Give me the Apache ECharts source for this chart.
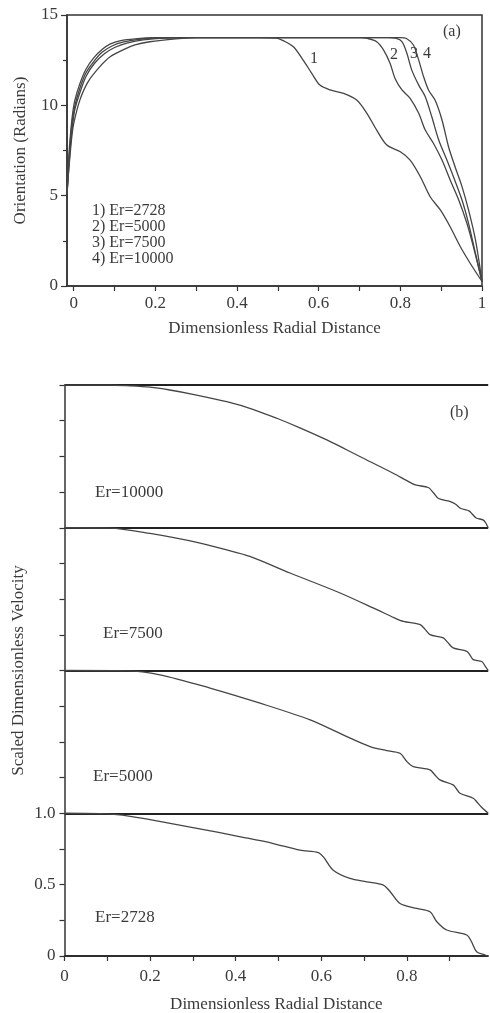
<!DOCTYPE html>
<html>
<head>
<meta charset="utf-8">
<script src="https://cdn.jsdelivr.net/npm/echarts@6/dist/echarts.min.js"></script>
<style>html,body{margin:0;padding:0;background:#fff;}#c{width:490px;height:1013px;}</style>
</head>
<body>
<div id="c"></div>
<script>
// ---------- Panel (a): orientation vs radial distance ----------
const erNames = ['Er=2728', 'Er=5000', 'Er=7500', 'Er=10000'];

const rA1 = [-0.0165, -0.013, -0.01, -0.005, 0, 0.015, 0.035, 0.064, 0.09, 0.12, 0.15, 0.186, 0.25, 0.3, 0.45, 0.497, 0.513, 0.538, 0.562, 0.583, 0.603, 0.628, 0.661, 0.693, 0.718, 0.742, 0.767, 0.8, 0.824, 0.849, 0.873, 0.898, 0.922, 0.947, 0.971, 1.0];
const oA1 = [5.1, 6.2, 7.0, 8.2, 9.0, 10.29, 11.3, 12.14, 12.7, 13.06, 13.35, 13.52, 13.68, 13.75, 13.75, 13.72, 13.58, 13.24, 12.5, 11.77, 11.12, 10.85, 10.66, 10.29, 9.56, 8.63, 7.8, 7.43, 6.97, 6.05, 4.94, 4.21, 3.28, 2.17, 1.26, 0.25];

const rA2 = [-0.0165, -0.012, -0.008, -0.003, 0.003, 0.015, 0.03, 0.05, 0.075, 0.1, 0.13, 0.17, 0.22, 0.3, 0.7, 0.72, 0.742, 0.759, 0.775, 0.787, 0.804, 0.824, 0.845, 0.861, 0.881, 0.902, 0.922, 0.943, 0.963, 0.979, 1.0];
const oA2 = [5.1, 6.6, 7.8, 8.9, 9.8, 10.7, 11.6, 12.3, 12.85, 13.2, 13.45, 13.62, 13.72, 13.75, 13.75, 13.7, 13.52, 13.06, 12.32, 11.49, 10.85, 10.39, 9.56, 8.63, 7.9, 6.97, 5.87, 4.76, 3.47, 2.17, 0.25];

const rA3 = [-0.0165, -0.012, -0.008, -0.003, 0.003, 0.015, 0.03, 0.05, 0.07, 0.095, 0.12, 0.16, 0.21, 0.3, 0.77, 0.79, 0.804, 0.816, 0.828, 0.845, 0.861, 0.877, 0.894, 0.914, 0.93, 0.951, 0.967, 0.984, 1.0];
const oA3 = [5.1, 6.9, 8.1, 9.2, 10.0, 10.95, 11.8, 12.45, 12.95, 13.3, 13.5, 13.65, 13.73, 13.75, 13.75, 13.7, 13.52, 12.88, 11.95, 11.12, 10.48, 9.37, 8.08, 6.97, 6.05, 4.76, 3.47, 1.81, 0.25];

const rA4 = [-0.0165, -0.012, -0.008, -0.003, 0.003, 0.015, 0.03, 0.05, 0.07, 0.09, 0.115, 0.15, 0.2, 0.3, 0.8, 0.815, 0.832, 0.845, 0.857, 0.869, 0.885, 0.902, 0.918, 0.934, 0.951, 0.967, 0.984, 1.0];
const oA4 = [5.1, 7.2, 8.4, 9.5, 10.3, 11.2, 12.0, 12.65, 13.1, 13.4, 13.58, 13.68, 13.74, 13.75, 13.75, 13.7, 13.34, 12.5, 11.58, 10.85, 10.29, 9.19, 7.71, 6.6, 5.5, 4.21, 2.55, 0.25];

const xTicksA = [0, 0.1, 0.2, 0.3, 0.4, 0.5, 0.6, 0.7, 0.8, 0.9, 1];
const xLabelsA = [0, 0.2, 0.4, 0.6, 0.8, 1];
const curveTags = ['1', '2', '3', '4'];
const legendLines = ['1) Er=2728', '2) Er=5000', '3) Er=7500', '4) Er=10000'];

// ---------- Panel (b): scaled velocity, stacked ----------
const rB1 = [0, 0.1, 0.15, 0.2, 0.3, 0.42, 0.488, 0.55, 0.593, 0.605, 0.628, 0.667, 0.706, 0.745, 0.761, 0.784, 0.823, 0.854, 0.87, 0.893, 0.94, 0.951, 0.963, 0.983, 0.99];
const vB1 = [1, 0.995, 0.98, 0.955, 0.9, 0.83, 0.788, 0.741, 0.725, 0.694, 0.601, 0.543, 0.52, 0.497, 0.45, 0.368, 0.333, 0.31, 0.24, 0.182, 0.147, 0.1, 0.03, 0.007, 0];

const rB2 = [0, 0.145, 0.223, 0.34, 0.457, 0.574, 0.651, 0.714, 0.753, 0.784, 0.8, 0.815, 0.854, 0.865, 0.877, 0.908, 0.916, 0.924, 0.955, 0.963, 0.975, 0.99];
const vB2 = [1, 0.998, 0.97, 0.877, 0.771, 0.654, 0.549, 0.467, 0.439, 0.42, 0.362, 0.327, 0.304, 0.27, 0.234, 0.199, 0.17, 0.14, 0.105, 0.081, 0.04, 0];

const rB3 = [0, 0.106, 0.2, 0.317, 0.37, 0.433, 0.527, 0.644, 0.73, 0.77, 0.792, 0.831, 0.842, 0.854, 0.885, 0.896, 0.908, 0.94, 0.948, 0.955, 0.975, 0.982, 0.99];
const vB3 = [1, 0.998, 0.96, 0.893, 0.852, 0.8, 0.683, 0.543, 0.426, 0.37, 0.344, 0.321, 0.29, 0.251, 0.228, 0.195, 0.158, 0.134, 0.105, 0.076, 0.063, 0.035, 0];

const rB4 = [0, 0.1, 0.145, 0.2, 0.246, 0.3, 0.379, 0.44, 0.496, 0.55, 0.613, 0.69, 0.768, 0.8, 0.82, 0.85, 0.862, 0.874, 0.9, 0.914, 0.926, 0.945, 0.953, 0.962, 0.978, 0.984, 0.99];
const vB4 = [1, 1, 0.995, 0.985, 0.965, 0.935, 0.883, 0.83, 0.767, 0.7, 0.615, 0.499, 0.382, 0.33, 0.3, 0.282, 0.245, 0.205, 0.185, 0.165, 0.135, 0.118, 0.095, 0.068, 0.055, 0.035, 0];

const panelOffsets = [0, 1, 2, 3];
const xTicksB = [0, 0.1, 0.2, 0.3, 0.4, 0.5, 0.6, 0.7, 0.8, 0.9];
const xLabelsB = [0, 0.2, 0.4, 0.6, 0.8];
const yTicksB = [0, 0.25, 0.5, 0.75, 1, 1.25, 1.5, 1.75, 2, 2.25, 2.5, 2.75, 3, 3.25, 3.5, 3.75, 4];
const yLabelsB = [0, 0.5, 1];

// ---------- build ----------
const FONT = 'Liberation Serif';
const INK = '#3a3a3a';
const LINE = '#454545';

function zip(xs, ys, off) { return xs.map((x, i) => [x, ys[i] + (off || 0)]); }

const seriesA = [[rA1, oA1], [rA2, oA2], [rA3, oA3], [rA4, oA4]].map((p, i) => ({
  name: erNames[i], type: 'line', xAxisIndex: 0, yAxisIndex: 0,
  data: zip(p[0], p[1]), showSymbol: false, smooth: 0.3,
  lineStyle: { color: LINE, width: 1.3 }, silent: true
}));
const seriesB = [[rB1, vB1], [rB2, vB2], [rB3, vB3], [rB4, vB4]].map((p, i) => ({
  name: erNames[i] + ' (b)', type: 'line', xAxisIndex: 1, yAxisIndex: 1,
  data: zip(p[0], p[1], panelOffsets[i]), showSymbol: false, smooth: 0.3,
  lineStyle: { color: LINE, width: 1.3 }, silent: true, z: 3
}));

const axisLineStyle = { onZero: false, lineStyle: { color: '#333', width: 1.5 } };
const tickStyle = { lineStyle: { color: '#333', width: 1.2 } };
const labelStyle = { fontFamily: FONT, fontSize: 17, color: INK };
const nameStyle = { fontFamily: FONT, fontSize: 17, color: INK };

function fmtX(v) { return (v === 0 || v === 1) ? String(v) : v.toFixed(1); }

const chart = echarts.init(document.getElementById('c'), null, { renderer: 'canvas' });
chart.setOption({
  animation: false,
  backgroundColor: '#fff',
  grid: [
    { left: 67, top: 15, width: 415, height: 271, outerBoundsMode: 'none', containLabel: false,
      show: true, borderColor: '#333', borderWidth: 1.5, backgroundColor: 'transparent' },
    { left: 64.5, top: 385, width: 423.7, height: 571, outerBoundsMode: 'none', containLabel: false }
  ],
  xAxis: [
    { gridIndex: 0, type: 'value', min: -0.0165, max: 1,
      axisLine: axisLineStyle, splitLine: { show: false },
      axisTick: { show: true, inside: false, length: 5, customValues: xTicksA, ...tickStyle },
      axisLabel: { customValues: xLabelsA, formatter: fmtX, margin: 9, ...labelStyle },
      name: 'Dimensionless Radial Distance', nameLocation: 'middle', nameGap: 34, nameTextStyle: nameStyle },
    { gridIndex: 1, type: 'value', min: 0, max: 0.99,
      axisLine: axisLineStyle, splitLine: { show: false },
      axisTick: { show: true, inside: false, length: 5, customValues: xTicksB, ...tickStyle },
      axisLabel: { customValues: xLabelsB, formatter: fmtX, margin: 12, ...labelStyle },
      name: 'Dimensionless Radial Distance', nameLocation: 'middle', nameGap: 40, nameTextStyle: nameStyle }
  ],
  yAxis: [
    { gridIndex: 0, type: 'value', min: 0, max: 15, interval: 5,
      axisLine: { show: true, ...axisLineStyle }, splitLine: { show: false },
      axisTick: { show: true, inside: false, length: 6, ...tickStyle },
      minorTick: { show: true, splitNumber: 2, length: 4, lineStyle: { color: '#333', width: 1.2 } },
      axisLabel: { margin: 9, ...labelStyle },
      name: 'Orientation (Radians)', nameLocation: 'middle', nameGap: 38, nameTextStyle: nameStyle },
    { gridIndex: 1, type: 'value', min: 0, max: 4,
      axisLine: { show: true, ...axisLineStyle }, splitLine: { show: false },
      axisTick: { show: true, inside: false, length: 5, customValues: yTicksB, ...tickStyle },
      axisLabel: { customValues: yLabelsB, formatter: v => v === 0 ? '0' : v.toFixed(1), margin: 9, ...labelStyle },
      name: 'Scaled Dimensionless Velocity', nameLocation: 'middle', nameGap: 37, nameMoveOverlap: false, nameTextStyle: nameStyle },
    { gridIndex: 1, type: 'value', min: 0, max: 4, interval: 1,
      axisLine: { show: false }, axisTick: { show: false }, axisLabel: { show: false },
      splitLine: { show: true, lineStyle: { color: '#222', width: 2 } } }
  ],
  series: seriesA.concat(seriesB),
  graphic: [
    { type: 'text', left: 443, top: 24, style: { text: '(a)', font: '16px ' + FONT, fill: INK } },
    { type: 'text', left: 310, top: 51, style: { text: curveTags[0], font: '16px ' + FONT, fill: INK } },
    { type: 'text', left: 390, top: 47, style: { text: curveTags[1], font: '16px ' + FONT, fill: INK } },
    { type: 'text', left: 410, top: 46, style: { text: curveTags[2], font: '16px ' + FONT, fill: INK } },
    { type: 'text', left: 423, top: 46, style: { text: curveTags[3], font: '16px ' + FONT, fill: INK } },
    { type: 'text', left: 92, top: 203, style: { text: legendLines.join('\n'), font: '16px ' + FONT, lineHeight: 15.8, fill: INK } },
    { type: 'text', left: 450, top: 405, style: { text: '(b)', font: '16px ' + FONT, fill: INK } },
    { type: 'text', left: 95, top: 484, style: { text: erNames[3], font: '17px ' + FONT, fill: INK } },
    { type: 'text', left: 103, top: 625, style: { text: erNames[2], font: '17px ' + FONT, fill: INK } },
    { type: 'text', left: 93, top: 768, style: { text: erNames[1], font: '17px ' + FONT, fill: INK } },
    { type: 'text', left: 95, top: 909, style: { text: erNames[0], font: '17px ' + FONT, fill: INK } }
  ]
});
</script>
</body>
</html>
